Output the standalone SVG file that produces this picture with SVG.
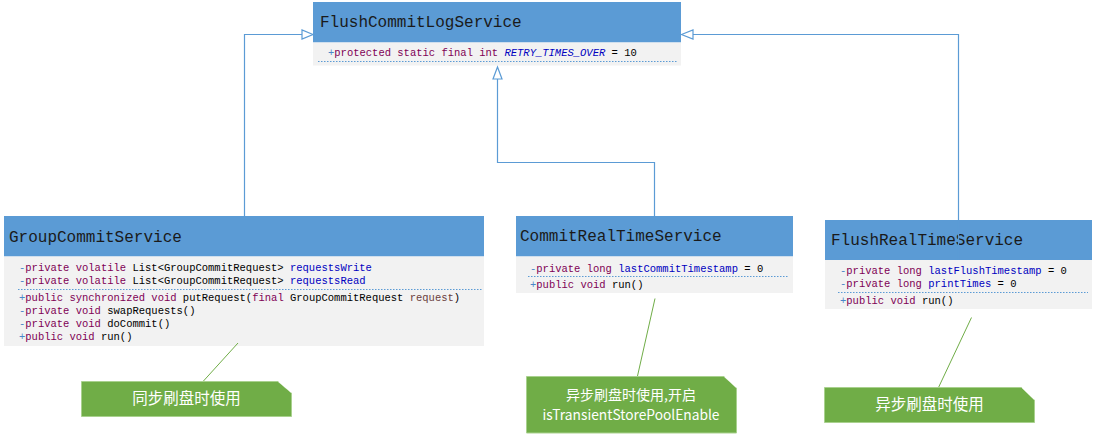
<svg xmlns="http://www.w3.org/2000/svg" width="1094" height="434" viewBox="0 0 1094 434">
<defs>
<style>
.hdr{fill:#5b9bd5}
.body{fill:#f2f2f2}
.title{font-family:"Liberation Mono","Courier New",monospace;font-size:16px;fill:#1a1a1a}
.m{font-family:"Liberation Mono","Courier New",monospace;font-size:10.5px;fill:#000}
.v{fill:#4a86c8}
.k{fill:#7f0055}
.f{fill:#0000c0}
.p{fill:#6a3e3e}
.dot{stroke:#5b9bd5;stroke-width:1;stroke-dasharray:1.5,1.5;fill:none}
.conn{stroke:#5b9bd5;stroke-width:1.2;fill:none}
.ah{fill:#fff;stroke:#5b9bd5;stroke-width:1.2}
.note{fill:#70ad47;stroke:#a9d18e;stroke-width:1}
.nt{font-family:"Noto Sans CJK SC","Microsoft YaHei",sans-serif;font-size:15.5px;fill:#fff;text-anchor:middle}
.nt2{font-family:"Noto Sans CJK SC","Microsoft YaHei",sans-serif;font-size:14px;fill:#fff;text-anchor:middle}
.nl{stroke:#70ad47;stroke-width:1;fill:none}
</style>
</defs>
<rect width="1094" height="434" fill="#fff"/>

<g id="FlushCommitLogService">
<rect class="hdr" x="313" y="2" width="368" height="40.5"/>
<rect class="body" x="313" y="42.5" width="368" height="23"/>
<text class="title" x="320" y="27">FlushCommitLogService</text>
<text class="m" x="328" y="56"><tspan class="v">+</tspan><tspan class="k">protected static final int</tspan> <tspan class="f" font-style="italic">RETRY_TIMES_OVER</tspan> = 10</text>
<line class="dot" x1="318" y1="61.5" x2="677" y2="61.5"/>
</g>

<g id="GroupCommitService">
<rect class="hdr" x="4" y="216" width="480" height="40.5"/>
<rect class="body" x="4" y="256.5" width="480" height="89.5"/>
<text class="title" x="9" y="242">GroupCommitService</text>
<text class="m" x="19" y="271"><tspan class="v">-</tspan><tspan class="k">private volatile</tspan> List&lt;GroupCommitRequest&gt; <tspan class="f">requestsWrite</tspan></text>
<text class="m" x="19" y="284"><tspan class="v">-</tspan><tspan class="k">private volatile</tspan> List&lt;GroupCommitRequest&gt; <tspan class="f">requestsRead</tspan></text>
<line class="dot" x1="18" y1="289.5" x2="482" y2="289.5"/>
<text class="m" x="19" y="301"><tspan class="v">+</tspan><tspan class="k">public synchronized void</tspan> putRequest(<tspan class="k">final</tspan> GroupCommitRequest <tspan class="p">request</tspan>)</text>
<text class="m" x="19" y="314"><tspan class="v">-</tspan><tspan class="k">private void</tspan> swapRequests()</text>
<text class="m" x="19" y="327"><tspan class="v">-</tspan><tspan class="k">private void</tspan> doCommit()</text>
<text class="m" x="19" y="340"><tspan class="v">+</tspan><tspan class="k">public void</tspan> run()</text>
</g>

<g id="CommitRealTimeService">
<rect class="hdr" x="516" y="216" width="277" height="40.5"/>
<rect class="body" x="516" y="256.5" width="277" height="36.5"/>
<text class="title" x="520" y="241">CommitRealTimeService</text>
<text class="m" x="530" y="271.5"><tspan class="v">-</tspan><tspan class="k">private long</tspan> <tspan class="f">lastCommitTimestamp</tspan> = 0</text>
<line class="dot" x1="528" y1="276.5" x2="788" y2="276.5"/>
<text class="m" x="530" y="287.5"><tspan class="v">+</tspan><tspan class="k">public void</tspan> run()</text>
</g>

<g id="FlushRealTimeService">
<rect class="hdr" x="825" y="220" width="267" height="40"/>
<rect class="body" x="825" y="260" width="267" height="49"/>
<text class="title" x="831" y="245">FlushRealTimeService</text>
<text class="m" x="840" y="274"><tspan class="v">-</tspan><tspan class="k">private long</tspan> <tspan class="f">lastFlushTimestamp</tspan> = 0</text>
<text class="m" x="840" y="286.5"><tspan class="v">-</tspan><tspan class="k">private long</tspan> <tspan class="f">printTimes</tspan> = 0</text>
<line class="dot" x1="838" y1="292.5" x2="1088" y2="292.5"/>
<text class="m" x="840" y="303.5"><tspan class="v">+</tspan><tspan class="k">public void</tspan> run()</text>
</g>

<g id="connectors">
<polyline class="conn" points="244.5,216 244.5,34.5 302,34.5"/>
<polygon class="ah" points="313,34.5 302,30 302,39"/>
<polyline class="conn" points="654.5,216 654.5,162.5 497.5,162.5 497.5,79"/>
<polygon class="ah" points="497.5,67 493,79 502,79"/>
<polyline class="conn" points="958.5,260 958.5,34.5 693,34.5"/>
<polygon class="ah" points="681.5,34.5 693,30 693,39"/>
<line class="nl" x1="238" y1="343" x2="203" y2="381.5"/>
<line class="nl" x1="655" y1="298.5" x2="637.5" y2="376"/>
<line class="nl" x1="971.5" y1="317.5" x2="938.5" y2="387.5"/>
</g>

<g id="note1">
<polygon class="note" points="81.5,381.5 278,381.5 291.5,393 291.5,416.5 81.5,416.5"/>
<polygon points="278,381.5 291.5,381.5 291.5,393" fill="#fff"/>
<text class="nt" x="186.5" y="404">同步刷盘时使用</text>
</g>

<g id="note2">
<polygon class="note" points="526.5,376.5 724,376.5 736.5,388 736.5,433 526.5,433"/>
<polygon points="724,376.5 736.5,376.5 736.5,388" fill="#fff"/>
<text class="nt2" x="631" y="400">异步刷盘时使用,开启</text>
<text class="nt2" x="631" y="420" textLength="177" lengthAdjust="spacingAndGlyphs">isTransientStorePoolEnable</text>
</g>

<g id="note3">
<polygon class="note" points="824.5,387.5 1021.5,387.5 1034.5,400 1034.5,422.5 824.5,422.5"/>
<polygon points="1021.5,387.5 1034.5,387.5 1034.5,400" fill="#fff"/>
<text class="nt" x="929.5" y="410">异步刷盘时使用</text>
</g>
</svg>
